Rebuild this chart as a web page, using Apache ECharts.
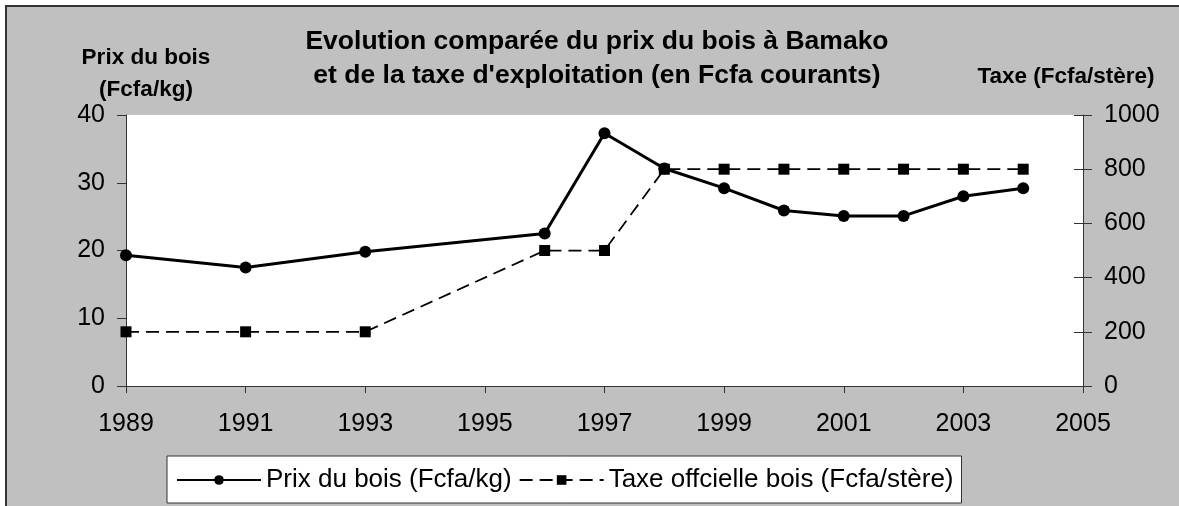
<!DOCTYPE html>
<html>
<head>
<meta charset="utf-8">
<script src="https://cdn.jsdelivr.net/npm/echarts@6/dist/echarts.min.js"></script>
<style>
  html, body { margin: 0; padding: 0; background: #ffffff; }
  #chart { width: 1179px; height: 506px; }
</style>
</head>
<body>
<div id="chart"></div>
<script>
// Years with an observation
const years = [1989, 1991, 1993, 1996, 1997, 1998, 1999, 2000, 2001, 2002, 2003, 2004];
// Wood price in Bamako (Fcfa/kg)
const prixBois = [19.3, 17.5, 19.8, 22.5, 37.3, 32.1, 29.2, 25.9, 25.1, 25.1, 28.0, 29.2];
// Official exploitation tax on wood (Fcfa/stère)
const taxeBois = [200, 200, 200, 500, 500, 800, 800, 800, 800, 800, 800, 800];

const firstYear = 1989;
const lastYear = 2005;
const yearStep = 2;

const titleLines = ['Evolution comparée du prix du bois à Bamako', "et de la taxe d'exploitation (en Fcfa courants)"];
const leftAxisName = ['Prix du bois', '(Fcfa/kg)'];
const rightAxisName = 'Taxe (Fcfa/stère)';
const seriesNames = ['Prix du bois (Fcfa/kg)', 'Taxe offcielle bois (Fcfa/stère)'];

// The x axis runs in years counted from firstYear so odd-year ticks line up
const toX = y => y - firstYear;
const prixData = years.map((y, i) => [toX(y), prixBois[i]]);
const taxeData = years.map((y, i) => [toX(y), taxeBois[i]]);

const FONT = '"Liberation Sans", Arial, sans-serif';
const AXIS_COLOR = '#333333';
const TICK_FONT = 25;

const chart = echarts.init(document.getElementById('chart'), null, { renderer: 'canvas' });

chart.setOption({
  animation: false,
  backgroundColor: '#ffffff',
  textStyle: { fontFamily: FONT },
  title: {
    text: titleLines.join('\n'),
    left: 597,
    top: 25,
    padding: 0,
    textAlign: 'center',
    textStyle: { fontFamily: FONT, fontSize: 26.5, fontWeight: 'bold', color: '#000', lineHeight: 34 }
  },
  graphic: [
    {
      type: 'rect', z: -100, silent: true,
      shape: { x: 6, y: 6, width: 1190, height: 520 },
      style: { fill: '#c0c0c0', stroke: '#333333', lineWidth: 2 }
    },
    {
      type: 'text', silent: true, x: 146, y: 74,
      style: { text: leftAxisName.join('\n'), font: 'bold 22.5px ' + FONT, fill: '#000', align: 'center', verticalAlign: 'middle', lineHeight: 32 }
    },
    {
      type: 'text', silent: true, x: 1066, y: 77,
      style: { text: rightAxisName, font: 'bold 22.5px ' + FONT, fill: '#000', align: 'center', verticalAlign: 'middle' }
    }
  ],
  grid: {
    left: 126, right: 96, top: 115, bottom: 120,
    containLabel: false, outerBoundsMode: 'none',
    show: true, backgroundColor: '#ffffff', borderWidth: 0
  },
  legend: {
    left: 167, top: 456,
    itemWidth: 84, itemHeight: 12, itemGap: 7,
    padding: [11, 8, 10, 9],
    backgroundColor: '#ffffff', borderColor: '#333333', borderWidth: 1,
    textStyle: { fontFamily: FONT, fontSize: 26, color: '#000', padding: [0, 0, 0, 0] },
    data: seriesNames
  },
  xAxis: {
    type: 'value',
    min: toX(firstYear), max: toX(lastYear), interval: yearStep,
    splitLine: { show: false },
    axisLine: { lineStyle: { color: AXIS_COLOR, width: 1 } },
    axisTick: { length: 7, lineStyle: { color: AXIS_COLOR } },
    axisLabel: { color: '#000', fontSize: TICK_FONT, margin: 26, formatter: v => String(v + firstYear) }
  },
  yAxis: [
    {
      type: 'value', position: 'left', min: 0, max: 40, interval: 10,
      splitLine: { show: false },
      axisLine: { show: true, lineStyle: { color: AXIS_COLOR, width: 1 } },
      axisTick: { show: true, length: 9, lineStyle: { color: AXIS_COLOR } },
      axisLabel: { color: '#000', fontSize: TICK_FONT, margin: 21 }
    },
    {
      type: 'value', position: 'right', min: 0, max: 1000, interval: 200,
      splitLine: { show: false },
      axisLine: { show: true, lineStyle: { color: AXIS_COLOR, width: 1 } },
      axisTick: { show: true, length: 9, lineStyle: { color: AXIS_COLOR } },
      axisLabel: { color: '#000', fontSize: TICK_FONT, margin: 21, formatter: v => String(v) }
    },
    {
      // inner half of the crossing ticks on the right axis
      type: 'value', position: 'right', min: 0, max: 1000, interval: 200,
      splitLine: { show: false },
      axisLine: { show: false },
      axisTick: { show: true, inside: true, length: 9, lineStyle: { color: AXIS_COLOR } },
      axisLabel: { show: false }
    }
  ],
  series: [
    {
      name: seriesNames[0], type: 'line', yAxisIndex: 0, z: 2,
      data: prixData,
      symbol: 'circle', symbolSize: 12,
      itemStyle: { color: '#000' },
      lineStyle: { color: '#000', width: 3 }
    },
    {
      name: seriesNames[1], type: 'line', yAxisIndex: 1, z: 3,
      data: taxeData,
      symbol: 'rect', symbolSize: 11,
      itemStyle: { color: '#000' },
      lineStyle: { color: '#000', width: 1.75, type: [13, 7] }
    }
  ]
});
</script>
</body>
</html>
